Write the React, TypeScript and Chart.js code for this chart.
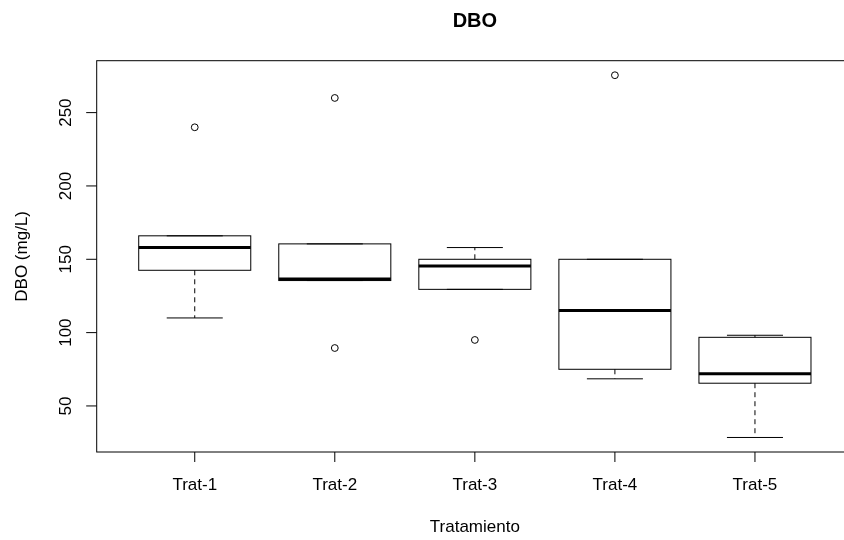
import React, { useEffect, useRef } from "react";
import { Chart, registerables } from "chart.js";

Chart.register(...registerables);

const CATEGORIES = ["Trat-1", "Trat-2", "Trat-3", "Trat-4", "Trat-5"];
const WHISK_LO = [110, 135.5, 129.5, 68.5, 28.5];
const Q1 = [142.5, 135.5, 129.5, 75, 65.5];
const MEDIAN = [158, 136.5, 145.5, 115, 72];
const Q3 = [166, 160.5, 150, 150, 96.8];
const WHISK_HI = [166, 160.5, 158, 150, 98.2];
const OUTLIERS = [[240], [89.5, 260], [95], [275.5], []];
const Y_TICKS = [50, 100, 150, 200, 250];

const TITLE = "DBO";
const X_TITLE = "Tratamiento";
const Y_TITLE = "DBO (mg/L)";

const X_MIN = 0.3;
const X_MAX = 5.7;
const Y_MIN = 18.6;
const Y_MAX = 285.4;

const FONT = '"Liberation Sans", Arial, sans-serif';

const boxPlugin = {
  id: "rbox",
  afterDatasetsDraw(chart: any) {
    const ctx = chart.ctx;
    const xs = chart.scales.x;
    const ys = chart.scales.y;
    const area = chart.chartArea;
    ctx.save();
    ctx.strokeStyle = "#000";
    ctx.lineWidth = 1;

    CATEGORIES.forEach((_, i) => {
      const cx = xs.getPixelForValue(i + 1);
      const half = xs.getPixelForValue(i + 1 + 0.4) - cx;
      const capHalf = half / 2;
      const yLo = ys.getPixelForValue(WHISK_LO[i]);
      const yQ1 = ys.getPixelForValue(Q1[i]);
      const yMed = ys.getPixelForValue(MEDIAN[i]);
      const yQ3 = ys.getPixelForValue(Q3[i]);
      const yHi = ys.getPixelForValue(WHISK_HI[i]);

      // whiskers (dashed)
      ctx.setLineDash([5, 4]);
      ctx.lineWidth = 1;
      ctx.beginPath();
      if (yLo !== yQ1) {
        ctx.moveTo(cx, yQ1);
        ctx.lineTo(cx, yLo);
      }
      if (yHi !== yQ3) {
        ctx.moveTo(cx, yQ3);
        ctx.lineTo(cx, yHi);
      }
      ctx.stroke();
      ctx.setLineDash([]);

      // staples
      ctx.beginPath();
      ctx.moveTo(cx - capHalf, yLo);
      ctx.lineTo(cx + capHalf, yLo);
      ctx.moveTo(cx - capHalf, yHi);
      ctx.lineTo(cx + capHalf, yHi);
      ctx.stroke();

      // box
      ctx.strokeRect(cx - half, yQ3, 2 * half, yQ1 - yQ3);

      // median
      ctx.lineWidth = 3;
      ctx.beginPath();
      ctx.moveTo(cx - half, yMed);
      ctx.lineTo(cx + half, yMed);
      ctx.stroke();
      ctx.lineWidth = 1;
    });

    // frame
    ctx.lineWidth = 1;
    ctx.strokeRect(area.left, area.top, area.right - area.left, area.bottom - area.top);

    // x ticks and labels
    ctx.fillStyle = "#000";
    ctx.font = `17px ${FONT}`;
    ctx.textAlign = "center";
    ctx.textBaseline = "alphabetic";
    CATEGORIES.forEach((lab, i) => {
      const px = xs.getPixelForValue(i + 1);
      ctx.beginPath();
      ctx.moveTo(px, area.bottom);
      ctx.lineTo(px, area.bottom + 10);
      ctx.stroke();
      ctx.fillText(lab, px, area.bottom + 38);
    });

    // y ticks and labels
    Y_TICKS.forEach((v) => {
      const py = ys.getPixelForValue(v);
      ctx.beginPath();
      ctx.moveTo(area.left - 10.5, py);
      ctx.lineTo(area.left, py);
      ctx.stroke();
      ctx.save();
      ctx.translate(area.left - 26, py);
      ctx.rotate(-Math.PI / 2);
      ctx.fillText(String(v), 0, 0);
      ctx.restore();
    });

    // axis titles
    const midX = (area.left + area.right) / 2;
    const midY = (area.top + area.bottom) / 2;
    ctx.fillText(X_TITLE, midX, 532);
    ctx.save();
    ctx.translate(27, midY);
    ctx.rotate(-Math.PI / 2);
    ctx.fillText(Y_TITLE, 0, 0);
    ctx.restore();

    // main title
    ctx.font = `bold 20px ${FONT}`;
    ctx.fillText(TITLE, midX, 27);

    ctx.restore();
  },
};

export default function App() {
  const ref = useRef<HTMLCanvasElement | null>(null);

  useEffect(() => {
    if (!ref.current) return;
    const outlierPoints: { x: number; y: number }[] = [];
    OUTLIERS.forEach((arr, i) => arr.forEach((v) => outlierPoints.push({ x: i + 1, y: v })));

    const chart = new Chart(ref.current, {
      type: "scatter",
      data: {
        datasets: [
          {
            label: "outliers",
            data: outlierPoints,
            pointStyle: "circle",
            pointRadius: 3.4,
            borderWidth: 1,
            borderColor: "#000",
            backgroundColor: "rgba(0,0,0,0)",
          },
        ],
      },
      options: {
        responsive: false,
        animation: false,
        devicePixelRatio: 1,
        layout: { padding: { left: 96.7, top: 60.7, right: 7, bottom: 88 } },
        scales: {
          x: { type: "linear", min: X_MIN, max: X_MAX, display: false },
          y: { type: "linear", min: Y_MIN, max: Y_MAX, display: false },
        },
        plugins: {
          legend: { display: false },
          tooltip: { enabled: false },
          title: { display: false },
        },
      },
      plugins: [boxPlugin],
    });
    return () => chart.destroy();
  }, []);

  return (
    <div
      style={{
        position: "fixed",
        left: 0,
        top: 0,
        width: 844,
        height: 540,
        overflow: "hidden",
        background: "#fff",
      }}
    >
      <canvas ref={ref} width={860} height={540} style={{ display: "block" }} />
    </div>
  );
}
